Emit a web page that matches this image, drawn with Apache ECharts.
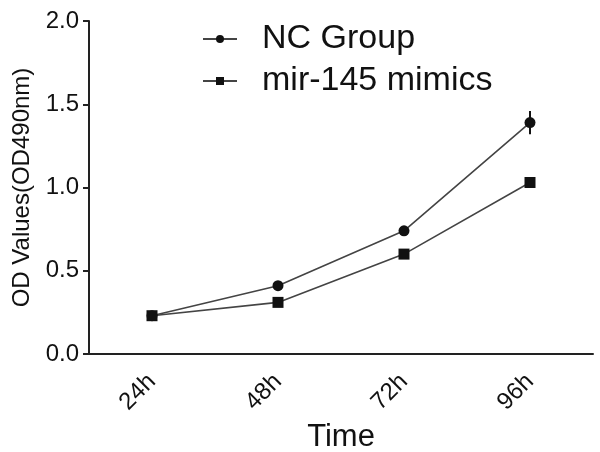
<!DOCTYPE html>
<html>
<head>
<meta charset="utf-8">
<script src="https://cdn.jsdelivr.net/npm/echarts@6/dist/echarts.min.js"></script>
<style>html,body{margin:0;padding:0;background:#fff;}#c{width:600px;height:452px;}</style>
</head>
<body>
<div id="c"></div>
<script>
var categories = ['24h', '48h', '72h', '96h'];
var ncValues = [0.23, 0.41, 0.74, 1.39];
var ncErrors = [0.01, 0.015, 0.02, 0.07];
var mimicValues = [0.23, 0.31, 0.60, 1.03];
var mimicErrors = [0.01, 0.01, 0.015, 0.025];
var yTicks = [0, 0.5, 1.0, 1.5, 2.0];

var FONT = 'Liberation Sans, Arial, sans-serif';

function errData(vals, errs) {
  return vals.map(function (v, i) { return [i, v - errs[i], v + errs[i]]; });
}
function errRender(params, api) {
  var x = api.value(0);
  var lo = api.coord([x, api.value(1)]);
  var hi = api.coord([x, api.value(2)]);
  return {
    type: 'line',
    shape: { x1: lo[0], y1: lo[1], x2: hi[0], y2: hi[1] },
    style: { stroke: '#111', lineWidth: 2 }
  };
}

var chart = echarts.init(document.getElementById('c'));
chart.setOption({
  animation: false,
  backgroundColor: '#fff',
  grid: { left: 89, right: 7, top: 21, bottom: 98, containLabel: false, outerBoundsMode: 'none' },
  legend: {
    orient: 'vertical',
    left: 197,
    top: 17,
    itemWidth: 34,
    itemHeight: 10,
    itemGap: 8,
    data: ['NC Group', 'mir-145 mimics'],
    textStyle: { fontFamily: FONT, fontSize: 34, color: '#111', lineHeight: 34, padding: [0, 0, 0, 20] }
  },
  xAxis: {
    type: 'category',
    data: categories,
    boundaryGap: true,
    name: 'Time',
    nameLocation: 'middle',
    nameGap: 61,
    nameTextStyle: { fontFamily: FONT, fontSize: 31, color: '#111' },
    axisLine: { lineStyle: { color: '#222', width: 2 } },
    axisTick: { alignWithLabel: true, length: 7, lineStyle: { color: '#222', width: 2 } },
    axisLabel: { rotate: 45, fontFamily: FONT, fontSize: 24, color: '#111', margin: 24 },
    splitLine: { show: false }
  },
  yAxis: {
    type: 'value',
    min: 0, max: 2, interval: 0.5,
    name: 'OD Values(OD490nm)',
    nameLocation: 'middle',
    nameGap: 53,
    nameTextStyle: { fontFamily: FONT, fontSize: 24, color: '#111' },
    axisLine: { show: true, lineStyle: { color: '#222', width: 2 } },
    axisTick: { show: true, length: 6, lineStyle: { color: '#222', width: 2 } },
    axisLabel: {
      fontFamily: FONT, fontSize: 24, color: '#111', margin: 10,
      formatter: function (v) { return yTicks.indexOf(v) >= 0 ? v.toFixed(1) : ''; }
    },
    splitLine: { show: false }
  },
  series: [
    {
      name: 'NC Group', type: 'line', data: ncValues,
      symbol: 'circle', symbolSize: 11,
      itemStyle: { color: '#111' },
      lineStyle: { color: '#444', width: 1.6 },
      z: 3
    },
    {
      name: 'mir-145 mimics', type: 'line', data: mimicValues,
      symbol: 'rect', symbolSize: 11,
      itemStyle: { color: '#111' },
      lineStyle: { color: '#444', width: 1.6 },
      z: 3
    },
    { type: 'custom', data: errData(ncValues, ncErrors), renderItem: errRender, z: 2 },
    { type: 'custom', data: errData(mimicValues, mimicErrors), renderItem: errRender, z: 2 }
  ]
});
</script>
</body>
</html>
